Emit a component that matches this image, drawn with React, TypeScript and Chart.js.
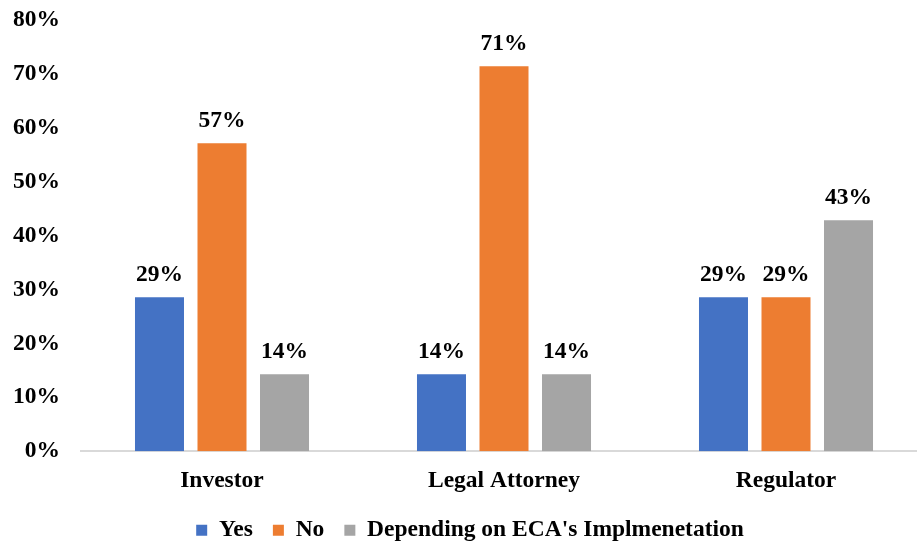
import React, { useEffect, useRef } from "react";
import { Chart, registerables } from "chart.js";

Chart.register(...registerables);

// Share of respondents per stakeholder group (n = 7 each, shown as percentages)
const categories = ["Investor", "Legal Attorney", "Regulator"];
const seriesNames = ["Yes", "No", "Depending on ECA's Implmenetation"];
const yesValues = [28.57, 14.29, 28.57];
const noValues = [57.14, 71.43, 28.57];
const dependingValues = [14.29, 14.29, 42.86];
const yTicks = [0, 10, 20, 30, 40, 50, 60, 70, 80];

const COLORS = ["#4472C4", "#ED7D31", "#A5A5A5"];
const FONT_FAMILY = "'Liberation Serif', 'Times New Roman', serif";
const FONT_SIZE = 23.5;

// Writes the rounded percentage above every bar
const barValueLabels = {
  id: "barValueLabels",
  afterDatasetsDraw(chart: any) {
    const ctx = chart.ctx;
    ctx.save();
    ctx.font = `bold ${FONT_SIZE}px ${FONT_FAMILY}`;
    ctx.fillStyle = "#000000";
    ctx.textAlign = "center";
    ctx.textBaseline = "alphabetic";
    chart.data.datasets.forEach((ds: any, i: number) => {
      const meta = chart.getDatasetMeta(i);
      meta.data.forEach((bar: any, j: number) => {
        const v = ds.data[j] as number;
        ctx.fillText(`${Math.round(v)}%`, bar.x, bar.y - 16);
      });
    });
    ctx.restore();
  },
};

export default function App() {
  const canvasRef = useRef<HTMLCanvasElement | null>(null);

  useEffect(() => {
    if (!canvasRef.current) return;
    const font = { family: FONT_FAMILY, size: FONT_SIZE, weight: "bold" as const };
    const chart = new Chart(canvasRef.current, {
      type: "bar",
      data: {
        labels: categories,
        datasets: [yesValues, noValues, dependingValues].map((values, i) => ({
          label: seriesNames[i],
          data: values,
          backgroundColor: COLORS[i],
          borderWidth: 0,
          categoryPercentage: 0.665,
          barPercentage: 0.784,
        })),
      },
      options: {
        responsive: false,
        animation: false,
        layout: { padding: { top: 20, left: 13, right: 8, bottom: -6 } },
        scales: {
          x: {
            grid: { display: false },
            border: { display: true, color: "#D9D9D9", width: 2 },
            ticks: { font, color: "#000000", padding: 8 },
            afterFit: (scale: any) => {
              scale.height = scale.height - 5;
            },
          },
          y: {
            min: 0,
            max: 80,
            afterBuildTicks: (scale: any) => {
              scale.ticks = yTicks.map((v) => ({ value: v }));
            },
            afterFit: (scale: any) => {
              scale.width = 68;
              scale.paddingTop = 0;
              scale.paddingBottom = 0;
            },
            grid: { display: false, drawTicks: false },
            border: { display: false },
            ticks: {
              font,
              color: "#000000",
              padding: 21,
              callback: (v: any) => `${v}%`,
            },
          },
        },
        plugins: {
          legend: {
            position: "bottom",
            labels: {
              font,
              color: "#000000",
              boxWidth: 11,
              boxHeight: 11,
              padding: 20,
            },
          },
          tooltip: { enabled: false },
        },
      },
      plugins: [barValueLabels],
    });
    return () => chart.destroy();
  }, []);

  return (
    <div
      style={{
        position: "absolute",
        left: 0,
        top: 0,
        width: 917,
        height: 546,
        overflow: "hidden",
        background: "#ffffff",
      }}
    >
      <canvas ref={canvasRef} width={935} height={546} />
    </div>
  );
}
